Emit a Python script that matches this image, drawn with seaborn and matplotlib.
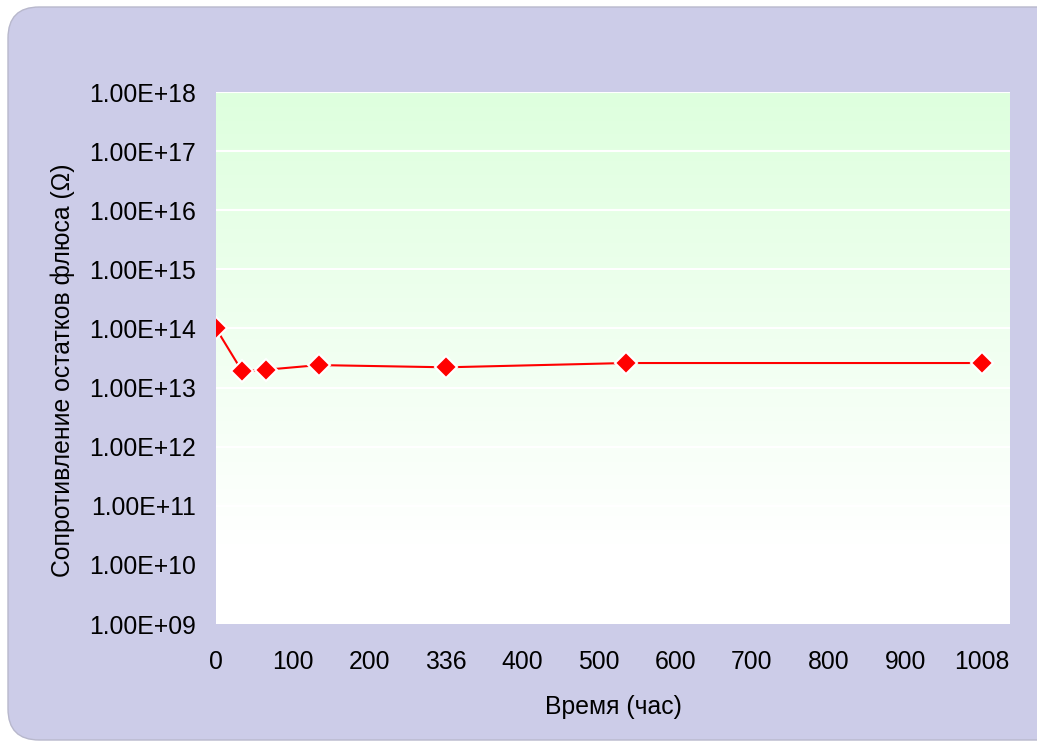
import numpy as np
import pandas as pd
import matplotlib
matplotlib.use("Agg")
import matplotlib.pyplot as plt
from matplotlib.patches import FancyBboxPatch
from matplotlib.colors import LinearSegmentedColormap
import seaborn as sns

# Measurement times (position on the time axis, hours) and flux residue resistance (Ohm)
time_pos = [0, 34, 65, 134, 301, 535, 1000]
resistance = [1.0e14, 1.9e13, 2.0e13, 2.4e13, 2.2e13, 2.6e13, 2.6e13]

x_ticks = [0, 100, 200, 300, 400, 500, 600, 700, 800, 900, 1000]
x_tick_labels = ["0", "100", "200", "336", "400", "500", "600", "700", "800", "900", "1008"]
y_ticks = [1e9, 1e10, 1e11, 1e12, 1e13, 1e14, 1e15, 1e16, 1e17, 1e18]
y_tick_labels = ["1.00E+09", "1.00E+10", "1.00E+11", "1.00E+12", "1.00E+13",
                 "1.00E+14", "1.00E+15", "1.00E+16", "1.00E+17", "1.00E+18"]

df = pd.DataFrame({"t": time_pos, "r": resistance})

sns.set_theme(style="white")
plt.rcParams["font.family"] = ["Liberation Sans", "DejaVu Sans"]
FS = 17.8

W, H = 1037, 742
fig = plt.figure(figsize=(W / 100, H / 100), dpi=100)
fig.patch.set_facecolor("white")

# Lavender rounded panel behind the chart
panel = FancyBboxPatch((8 / W, 2 / H), 1.05 - 8 / W, 1 - 7 / H - 2 / H,
                       boxstyle="round,pad=0,rounding_size=0.03",
                       transform=fig.transFigure, facecolor="#CCCCE8",
                       edgecolor="#B8B8CC", linewidth=1.0, zorder=-10,
                       mutation_aspect=W / H)
fig.add_artist(panel)

ax = fig.add_axes([216 / W, 1 - 624 / H, (1010 - 216) / W, (624 - 92) / H])
ax.set_facecolor("white")

# Green-to-white vertical gradient fill of the plotting area
cmap = LinearSegmentedColormap.from_list("bg", [(0.0, "#FFFFFF"), (0.15, "#FFFFFF"),
                                               (1.0, "#DEFFDE")])
grad = np.linspace(0, 1, 256).reshape(-1, 1)
ax.imshow(grad, cmap=cmap, aspect="auto", origin="lower",
          extent=[0, 1, 0, 1], transform=ax.transAxes, zorder=0)

sns.lineplot(data=df, x="t", y="r", ax=ax, color="#FF0000", linewidth=1.5,
             marker="D", markersize=11, markerfacecolor="#FF0000",
             markeredgecolor="white", markeredgewidth=1.5, zorder=3)

ax.set_yscale("log")
ax.set_ylim(1e9, 1e18)
ax.set_xlim(0, 1037)
ax.set_yticks(y_ticks)
ax.set_yticklabels(y_tick_labels)
ax.minorticks_off()
ax.set_xticks(x_ticks)
ax.set_xticklabels(x_tick_labels)

ax.grid(axis="y", color="white", linewidth=1.5, zorder=1)
ax.grid(axis="x", visible=False)
ax.set_axisbelow(False)
for s in ax.spines.values():
    s.set_visible(False)

ax.tick_params(axis="y", length=0, pad=14.4, labelsize=FS, labelcolor="black")
ax.tick_params(axis="x", length=0, pad=19, labelsize=FS, labelcolor="black")

ax.set_xlabel("Время (час)", fontsize=FS, color="black", labelpad=15)
ax.set_ylabel("Сопротивление остатков флюса (Ω)", fontsize=FS, color="black")
ax.yaxis.set_label_coords(-0.178, 0.477)

fig.savefig("out.png", dpi=100, facecolor=fig.get_facecolor())
